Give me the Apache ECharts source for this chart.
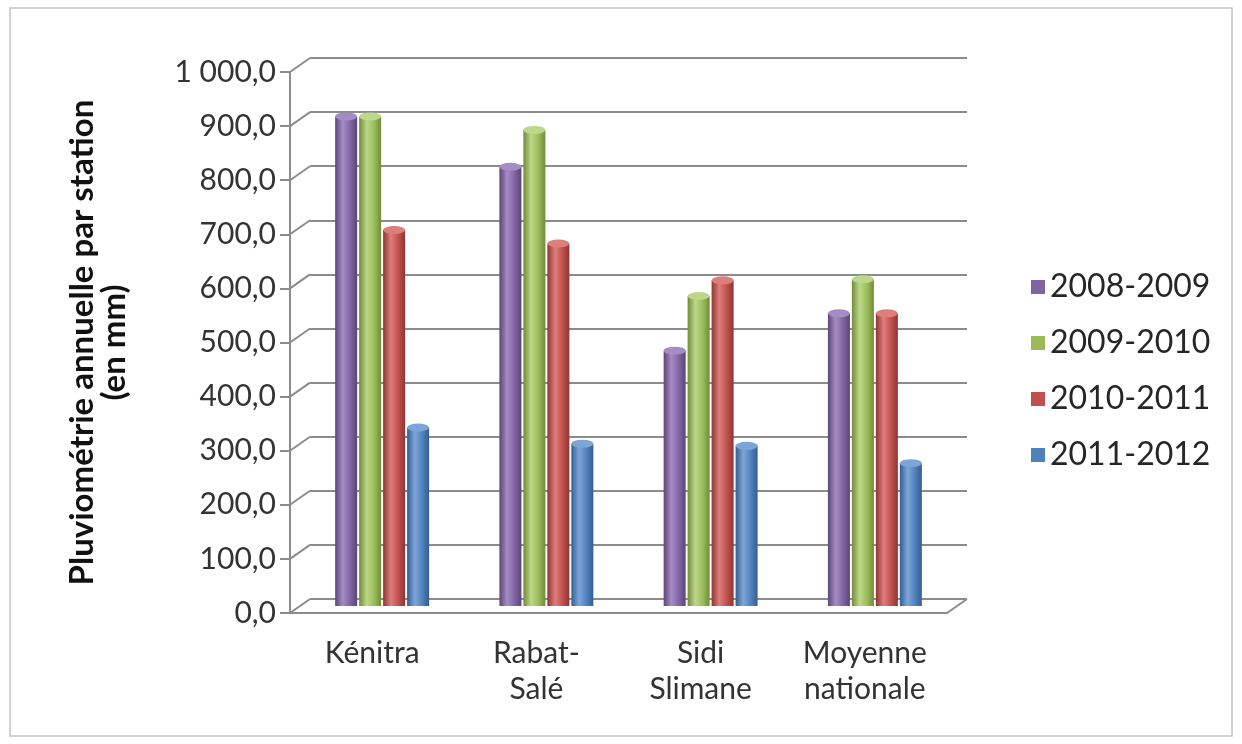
<!DOCTYPE html>
<html>
<head>
<meta charset="utf-8">
<script src="https://cdn.jsdelivr.net/npm/echarts@6/dist/echarts.min.js"></script>
<style>
  html, body { margin: 0; padding: 0; background: #fff; }
  #chart { width: 1242px; height: 744px; }
</style>
</head>
<body>
<div id="chart"></div>
<script>
var stations = ['Kénitra', 'Rabat-\nSalé', 'Sidi\nSlimane', 'Moyenne\nnationale'];
var seasons = ['2008-2009', '2009-2010', '2010-2011', '2011-2012'];
var rain0809 = [905, 812, 472, 541];
var rain0910 = [905, 880, 573, 604];
var rain1011 = [695, 670, 602, 541];
var rain1112 = [330, 300, 296, 264];
var yTicks = [0, 100, 200, 300, 400, 500, 600, 700, 800, 900, 1000];

var values = [rain0809, rain0910, rain1011, rain1112];
var colors = ['#8064A2', '#9BBB59', '#C0504D', '#4F81BD'];
var darks = ['#5c4579', '#718b3b', '#8e3532', '#345d8f'];
var lights = ['#a58cc4', '#bcd889', '#dd7e7b', '#7ea5d8'];

// depth shift between front plane and back wall
var DX = 20, DY = -14;
var font = 'Lato';
var grey = '#8c8c8c';

var chart = echarts.init(document.getElementById('chart'));

function fmt(v) {
  var s = String(v);
  if (v >= 1000) s = Math.floor(v / 1000) + ' ' + String(v % 1000).padStart(3, '0');
  return s + ',0';
}

var series = [];

// diagonals from front axis to back wall, plus right corner of the floor
series.push({
  type: 'custom',
  xAxisIndex: 1,
  yAxisIndex: 1,
  silent: true,
  data: yTicks.map(function (v) { return [0, v]; }),
  renderItem: function (params, api) {
    var cs = params.coordSys;
    var y = api.coord([0, api.value(1)])[1];
    var kids = [{
      type: 'line',
      shape: { x1: cs.x, y1: y, x2: cs.x + DX, y2: y + DY },
      style: { stroke: grey, lineWidth: 2 }
    }];
    if (api.value(1) === 0) {
      kids.push({
        type: 'line',
        shape: { x1: cs.x + cs.width, y1: y, x2: cs.x + cs.width + DX, y2: y + DY },
        style: { stroke: grey, lineWidth: 2 }
      });
    }
    return { type: 'group', children: kids };
  }
});

seasons.forEach(function (name, i) {
  series.push({
    name: name,
    type: 'bar',
    xAxisIndex: 2,
    yAxisIndex: 2,
    barWidth: 22,
    barGap: '9%',
    z: 3,
    itemStyle: {
      color: new echarts.graphic.LinearGradient(0, 0, 1, 0, [
        { offset: 0, color: darks[i] },
        { offset: 0.35, color: lights[i] },
        { offset: 0.7, color: colors[i] },
        { offset: 1, color: darks[i] }
      ])
    },
    data: values[i]
  });
});

seasons.forEach(function (name, i) {
  series.push({
    name: name,
    type: 'pictorialBar',
    xAxisIndex: 2,
    yAxisIndex: 2,
    barWidth: 22,
    barGap: '9%',
    symbol: 'circle',
    symbolSize: [22, 8],
    symbolPosition: 'end',
    symbolOffset: [0, '-50%'],
    z: 4,
    itemStyle: { color: lights[i] },
    data: values[i]
  });
});

var option = {
  backgroundColor: '#fff',
  animation: false,
  graphic: [{
    type: 'rect',
    shape: { x: 10, y: 8, width: 1222, height: 728 },
    style: { fill: 'none', stroke: '#c4c4c4', lineWidth: 1.5 },
    silent: true
  }],
  legend: {
    orient: 'vertical',
    left: 1026,
    top: 266,
    icon: 'rect',
    itemWidth: 14,
    itemHeight: 14,
    itemGap: 24,
    textStyle: { fontFamily: font, fontSize: 32, color: '#262626' },
    data: seasons.map(function (s, i) {
      return { name: s, itemStyle: { color: colors[i] } };
    })
  },
  grid: [
    { left: 310, right: 275, top: 58, bottom: 145 },
    { left: 290, right: 295, top: 72, bottom: 131 },
    { left: 300, right: 285, top: 65, bottom: 138 }
  ],
  xAxis: [
    { type: 'category', gridIndex: 0, data: stations, show: false },
    {
      type: 'category', gridIndex: 1, data: stations,
      axisLine: { lineStyle: { color: grey, width: 2 } },
      axisTick: { show: false },
      axisLabel: { fontFamily: font, fontSize: 30, color: '#333', lineHeight: 36, margin: 22 }
    },
    { type: 'category', gridIndex: 2, data: stations, show: false }
  ],
  yAxis: [
    {
      type: 'value', gridIndex: 0, min: 0, max: 1000, interval: 100,
      axisLine: { show: false }, axisTick: { show: false }, axisLabel: { show: false },
      splitLine: { lineStyle: { color: grey, width: 2 } }
    },
    {
      type: 'value', gridIndex: 1, min: 0, max: 1000, interval: 100,
      name: 'Pluviométrie annuelle par station\n(en mm)',
      nameLocation: 'middle',
      nameGap: 160,
      nameTextStyle: { fontFamily: font, fontSize: 33, fontWeight: 'bold', color: '#111', lineHeight: 32 },
      axisLine: { show: true, lineStyle: { color: grey, width: 2 } },
      axisTick: { show: true, length: 10, lineStyle: { color: grey, width: 2 } },
      axisLabel: { fontFamily: font, fontSize: 30, color: '#333', margin: 14, formatter: fmt },
      splitLine: { show: false }
    },
    { type: 'value', gridIndex: 2, min: 0, max: 1000, show: false, splitLine: { show: false } }
  ],
  series: series
};

chart.setOption(option);
window.addEventListener('resize', function () { chart.resize(); });
</script>
</body>
</html>
